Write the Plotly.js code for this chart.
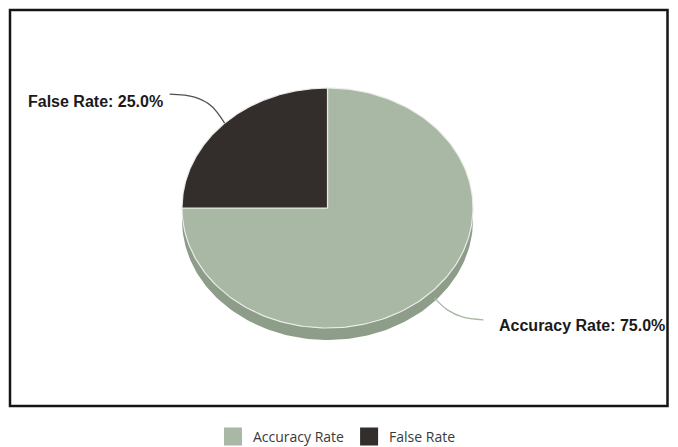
<!DOCTYPE html>
<html>
<head>
<meta charset="utf-8">
<script src="https://cdn.plot.ly/plotly-3.0.1.min.js"></script>
<style>html,body{margin:0;padding:0;background:#fff;}#chart{width:678px;height:447px;}</style>
</head>
<body>
<div id="chart"></div>
<script>
// ---- data ----
const labels = ["Accuracy Rate", "False Rate"];
const values = [75, 25];
const colors = ["#a8b8a4", "#332e2b"];
const rimColors = ["#8d9d89", "#26221f"];
const leaderColors = ["#a8b8a4", "#555050"];

// ---- geometry / style (axis units: 1 = ellipse radius) ----
const W = 678, H = 447;
const cx = 327.5, cy = 208, rx = 145.5, ry = 120;   // px
const depthPx = 12;
const xRange = [-cx / rx, (W - cx) / rx];
const yRange = [-(H - cy) / ry, cy / ry];
const depth = depthPx / ry;
const N = 200;

const total = values.reduce((a, b) => a + b, 0);
const traces = [];
const sliceInfo = [];
let cum = 0;
values.forEach((v, i) => {
  const a0 = Math.PI / 2 - 2 * Math.PI * cum / total;
  cum += v;
  const a1 = Math.PI / 2 - 2 * Math.PI * cum / total;
  sliceInfo.push({a0, a1, mid: (a0 + a1) / 2});
});

// rim (3D side) for parts of slices in the lower half
sliceInfo.forEach((s, i) => {
  const xs = [], ys = [], xb = [], yb = [];
  for (let k = 0; k <= N; k++) {
    const a = s.a0 + (s.a1 - s.a0) * k / N;
    if (Math.sin(a) <= 0.0001) {
      xs.push(Math.cos(a)); ys.push(Math.sin(a));
      xb.push(Math.cos(a)); yb.push(Math.sin(a) - depth);
    }
  }
  if (xs.length > 1) {
    traces.push({
      type: "scatter", mode: "lines", x: xs.concat(xb.reverse()), y: ys.concat(yb.reverse()),
      fill: "toself", fillcolor: rimColors[i], line: {width: 0, color: rimColors[i]},
      hoverinfo: "skip", showlegend: false
    });
  }
});

// top faces
sliceInfo.forEach((s, i) => {
  const xs = [0], ys = [0];
  for (let k = 0; k <= N; k++) {
    const a = s.a0 + (s.a1 - s.a0) * k / N;
    xs.push(Math.cos(a)); ys.push(Math.sin(a));
  }
  xs.push(0); ys.push(0);
  traces.push({
    type: "scatter", mode: "lines", x: xs, y: ys,
    fill: "toself", fillcolor: colors[i], line: {width: 1.2, color: "rgba(235,238,233,0.95)"},
    hoverinfo: "skip", showlegend: false
  });
});

// leader lines & labels (offsets in px from the mid-angle anchor)
const leaderOffsets = [
  [[4, 5], [17, 17], [32, 24], [53, 27]],
  [[0, 0], [-13, -17], [-30, -26], [-55, -29]]
];
const labelOffsets = [[67, 33], [-60, -22]];
const annotations = [];
sliceInfo.forEach((s, i) => {
  const ax = cx + rx * Math.cos(s.mid), ay = cy - ry * Math.sin(s.mid);
  const pts = leaderOffsets[i].map(([dx, dy]) => [(ax + dx - cx) / rx, (cy - (ay + dy)) / ry]);
  traces.push({
    type: "scatter", mode: "lines", x: pts.map(p => p[0]), y: pts.map(p => p[1]),
    line: {color: leaderColors[i], width: 1.3, shape: "spline"}, hoverinfo: "skip", showlegend: false
  });
  const right = Math.cos(s.mid) >= 0;
  const lx = ax + labelOffsets[i][0], ly = ay + labelOffsets[i][1];
  annotations.push({
    x: (lx - cx) / rx, y: (cy - ly) / ry, xref: "x", yref: "y",
    text: labels[i] + ": " + (values[i] / total * 100).toFixed(1) + "%",
    showarrow: false, xanchor: right ? "left" : "right", yanchor: "middle",
    font: {family: "Liberation Sans, Arial, sans-serif", size: 16, color: "#1a1a1a", weight: "bold"}
  });
});

// legend entries
labels.forEach((l, i) => {
  traces.push({
    type: "scatter", mode: "markers", x: [null], y: [null], name: l,
    marker: {symbol: "square", size: 16, color: colors[i], line: {color: colors[i], width: 2}},
    hoverinfo: "skip", showlegend: true
  });
});

const layout = {
  width: W, height: H,
  margin: {l: 0, r: 0, t: 0, b: 0, pad: 0, autoexpand: false},
  paper_bgcolor: "#ffffff", plot_bgcolor: "rgba(0,0,0,0)",
  xaxis: {range: xRange, visible: false, fixedrange: true},
  yaxis: {range: yRange, visible: false, fixedrange: true},
  showlegend: true,
  legend: {
    orientation: "h", x: 0.497, xanchor: "center", y: 1 - 437 / H, yanchor: "middle",
    font: {family: "Open Sans, sans-serif", size: 14, color: "#3a3a3a"},
    bgcolor: "rgba(0,0,0,0)"
  },
  shapes: [{
    type: "rect", xref: "paper", yref: "paper",
    x0: 10 / W, x1: 667.5 / W, y0: 1 - 406 / H, y1: 1 - 10 / H,
    line: {color: "#151515", width: 2.5}
  }],
  annotations: annotations
};

Plotly.newPlot("chart", traces, layout, {staticPlot: true});
</script>
</body>
</html>
